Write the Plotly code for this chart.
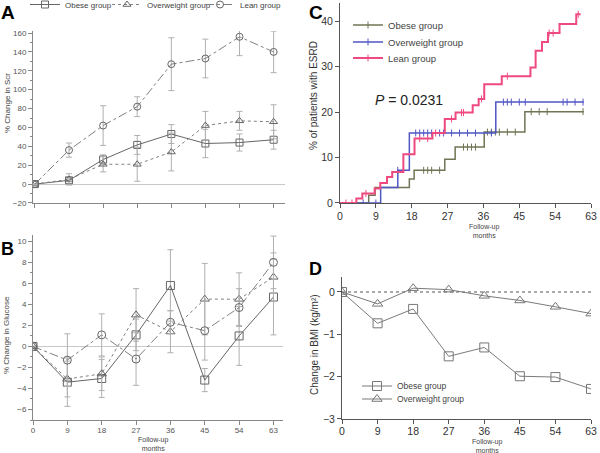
import plotly.graph_objects as go

months = [0, 9, 18, 27, 36, 45, 54, 63]

# Panel A: % change in Scr
scr_obese = [0, 4, 26, 41.5, 53, 43, 44, 47]
scr_obese_err = [0, 3, 5, 10, 10, 15, 9, 10]
scr_over = [0, 5, 21, 21, 34, 62, 67, 66]
scr_over_err = [0, 6, 8, 18, 20, 15, 10, 18]
scr_lean = [0, 36, 62, 82, 127, 133, 156, 140]
scr_lean_err = [0, 7.5, 21, 10.5, 28, 20.5, 20, 22]

# Panel B: % change in glucose
glu_obese = [0, -3.4, -3.05, 1.1, 5.8, -3.2, 1.0, 4.7]
glu_obese_err = [0, 2.3, 1.8, 1.5, 3.4, 1.1, 2.8, 3.6]
glu_over = [0, -3.1, -2.6, 3.0, 1.4, 4.5, 4.5, 6.6]
glu_over_err = [0, 1.7, 1.6, 2.5, 2.0, 3.4, 2.5, 2.3]
glu_lean = [0, -1.3, 1.1, -1.2, 2.3, 1.5, 3.7, 8.0]
glu_lean_err = [0, 2.5, 2.0, 2.5, 1.1, 2.8, 1.8, 2.5]

# Panel C: Kaplan-Meier, % of patients with ESRD
km_obese_t = [0, 7.2, 8.8, 17.4, 18.6, 26.3, 28.9, 36.2, 46.4, 61.2]
km_obese_v = [0, 1.7, 3.4, 5.3, 7.2, 9.6, 12.3, 15.6, 20.1, 20.1]
km_over_t = [0, 10.2, 14.5, 17.4, 39.1, 61.2]
km_over_v = [0, 3.4, 7.2, 15.4, 22.2, 22.2]
km_lean_t = [0, 4.1, 5.6, 8.7, 10.1, 11.8, 13.1, 15.9, 18.7, 23.2, 26.3, 29.0,
             33.3, 34.8, 36.2, 40.6, 47.8, 49.1, 50.7, 52.2, 55.1, 59.3, 60.4]
km_lean_v = [0, 1.0, 2.1, 3.2, 4.4, 5.7, 6.8, 10.7, 14.2, 15.4, 18.5, 19.9,
             21.5, 22.9, 26.1, 27.9, 29.8, 33.5, 35.4, 37.4, 39.4, 41.5, 41.5]
cens_obese_t = [21, 22, 23, 25, 31, 32, 33, 34, 37, 38, 39, 40, 42, 44, 48, 50, 52, 61]
cens_over_t = [5.8, 9, 14.5, 19, 20, 21, 22, 23, 25, 26, 28, 30, 32, 34, 38,
               41, 42, 43, 45, 46.5, 56, 57, 59, 61]
cens_lean_t = [1.5, 3, 6.5, 20, 22, 24, 28, 30.5, 31, 35.5, 42, 52.5, 53.5, 59.8]

# Panel D: change in BMI
bmi_obese = [0, -0.74, -0.40, -1.52, -1.31, -1.99, -2.01, -2.29]
bmi_over = [0, -0.28, 0.09, 0.055, -0.09, -0.20, -0.35, -0.51]

FONT = "Liberation Sans, Arial, sans-serif"
GRAY = "#7a7a7a"
ERR = "#b0b0b0"
W, H = 600, 453


def step_value(ts, vs, t):
    val = vs[0]
    for ti, vi in zip(ts, vs):
        if ti <= t:
            val = vi
    return val


def censor_xy(ts, vs, cts):
    xs, ys = [], []
    for c in cts:
        xs += [c, None]
        ys += [step_value(ts, vs, c), None]
    return xs, ys


fig = go.Figure()

groups = [
    ("Obese group", "square-open", "solid", "#666666"),
    ("Overweight group", "triangle-up-open", "dot", "#808080"),
    ("Lean group", "circle-open", "dashdot", "#808080"),
]

scr = [(scr_obese, scr_obese_err), (scr_over, scr_over_err), (scr_lean, scr_lean_err)]
glu = [(glu_obese, glu_obese_err), (glu_over, glu_over_err), (glu_lean, glu_lean_err)]
legA = ["legend9", "legend2", "legend3"]

for (name, sym, dash, col), (vals, err), lg in zip(groups, scr, legA):
    fig.add_trace(go.Scatter(
        x=months, y=vals, name=name, mode="lines+markers",
        line=dict(color=col, width=1, dash=dash),
        marker=dict(symbol=sym, size=7, color="#666666", line=dict(width=1)),
        error_y=dict(type="data", array=err, color=ERR, thickness=1, width=3),
        xaxis="x", yaxis="y", legend=lg))

for (name, sym, dash, col), (vals, err) in zip(groups, glu):
    fig.add_trace(go.Scatter(
        x=months, y=vals, name=name, mode="lines+markers", showlegend=False,
        line=dict(color=col, width=1, dash=dash),
        marker=dict(symbol=sym, size=8, color="#666666", line=dict(width=1)),
        error_y=dict(type="data", array=err, color=ERR, thickness=1, width=3),
        xaxis="x2", yaxis="y2"))

km = [
    ("Obese group", km_obese_t, km_obese_v, cens_obese_t, "#6f7555", 1.5, "legend4"),
    ("Overweight group", km_over_t, km_over_v, cens_over_t, "#5056c4", 1.5, "legend5"),
    ("Lean group", km_lean_t, km_lean_v, cens_lean_t, "#ef4a80", 2, "legend6"),
]
for name, ts, vs, cts, col, w, lg in km:
    fig.add_trace(go.Scatter(
        x=ts, y=vs, mode="lines", line=dict(color=col, width=w, shape="hv"),
        showlegend=False, xaxis="x3", yaxis="y3"))
    cx, cy = censor_xy(ts, vs, cts)
    fig.add_trace(go.Scatter(
        x=cx, y=cy, name=name, mode="lines+markers", connectgaps=False,
        line=dict(color=col, width=w),
        marker=dict(symbol="line-ns", size=5, line=dict(width=1, color=col)),
        xaxis="x3", yaxis="y3", legend=lg))

for name, vals, sym, lg in [("Obese group", bmi_obese, "square-open", "legend7"),
                            ("Overweight group", bmi_over, "triangle-up-open", "legend8")]:
    fig.add_trace(go.Scatter(
        x=months, y=vals, name=name, mode="lines+markers",
        line=dict(color=GRAY, width=1),
        marker=dict(symbol=sym, size=9, color="#777777", line=dict(width=1)),
        xaxis="x4", yaxis="y4", legend=lg))

axis_common = dict(showline=True, linecolor="#888888", linewidth=1, ticks="outside",
                   tickcolor="#888888", showgrid=False, mirror=False, automargin=False,
                   ticklabeloverflow="allow",
                   tickfont=dict(family=FONT, size=8, color="#555555"))
axis_big = dict(showline=True, linecolor="#555555", linewidth=1, ticks="outside",
                tickcolor="#555555", showgrid=False, zeroline=False, automargin=False,
                ticklabeloverflow="allow",
                tickfont=dict(family=FONT, size=10.5, color="#333333"))


def leg(xtext, ycenter, size, off=43):
    return dict(x=(xtext - off) / W, y=1 - ycenter / H, xanchor="left", yanchor="middle",
                font=dict(family=FONT, size=size, color="#444444"),
                bgcolor="rgba(0,0,0,0)", itemwidth=30)


fig.update_layout(
    width=W, height=H, margin=dict(l=0, r=0, t=0, b=0, autoexpand=False),
    paper_bgcolor="white", plot_bgcolor="white",
    font=dict(family=FONT, color="#444444"),
    xaxis=dict(domain=[0.055, 0.475], range=[-0.5, 66], tickvals=months,
               showticklabels=False, ticklen=4, zeroline=False, anchor="y",
               **axis_common),
    yaxis=dict(domain=[0.5519, 0.9313], range=[-20, 162], dtick=20, ticklen=4,
               zeroline=True, zerolinecolor="#c8c8c8", zerolinewidth=1, anchor="x",
               minor=dict(dtick=10, ticks="outside", ticklen=2, tickcolor="#888888"),
               **axis_common),
    xaxis2=dict(domain=[0.055, 0.4717], range=[0, 65.5], tickvals=months, ticklen=4,
                ticklabelstandoff=-2, zeroline=False, anchor="y2", **axis_common),
    yaxis2=dict(domain=[0.0728, 0.4812], range=[-7, 10.6], tickvals=[-6, -4, -2, 0, 2, 4, 6, 8, 10],
                ticklen=4, zeroline=True, zerolinecolor="#c8c8c8", zerolinewidth=1, anchor="x2",
                minor=dict(dtick=1, ticks="outside", ticklen=2, tickcolor="#888888"),
                **axis_common),
    xaxis3=dict(domain=[0.5667, 0.985], range=[0, 63], tickvals=months, ticklen=4,
                ticklabelstandoff=-1, anchor="y3", **axis_big),
    yaxis3=dict(domain=[0.5519, 0.9934], range=[0, 44], tickvals=[0, 10, 20, 30, 40],
                ticklen=4, anchor="x3", **axis_big),
    xaxis4=dict(domain=[0.57, 0.985], range=[0, 63], tickvals=months, ticklen=4,
                ticklabelstandoff=-2, anchor="y4", **axis_big),
    yaxis4=dict(domain=[0.0751, 0.3885], range=[-3, 0.354], tickvals=[-3, -2, -1, 0],
                ticklen=4, anchor="x4", **axis_big),
    legend9=leg(68, 4.5, 8),
    legend2=leg(150, 4.5, 8),
    legend3=leg(243, 4.5, 8),
    legend4=leg(388, 25, 9.5, 40),
    legend5=leg(388, 42, 9.5, 40),
    legend6=leg(388, 58, 9.5, 40),
    legend7=leg(397, 386, 8.5, 40),
    legend8=leg(397, 399, 8.5, 40),
    shapes=[dict(type="line", xref="x4 domain", yref="y4", x0=0, x1=1, y0=0, y1=0,
                 line=dict(color="#555555", width=1, dash="dot"), layer="below")],
)

ann = []


def add_text(text, x, y, size, angle=0, color="#444444", bold=False, yanchor="middle"):
    ann.append(dict(text=("<b>%s</b>" % text) if bold else text, x=x / W, y=1 - y / H,
                    xref="paper", yref="paper", showarrow=False, textangle=angle,
                    xanchor="center", yanchor=yanchor,
                    font=dict(family=FONT, size=size, color=color)))


add_text("A", 8, 0, 19, color="#000000", bold=True, yanchor="top")
add_text("B", 7, 249, 18, color="#000000", bold=True)
add_text("C", 316, 0, 19, color="#000000", bold=True, yanchor="top")
add_text("D", 315, 269, 18, color="#000000", bold=True)
add_text("% Change in Scr", 7, 103, 8, angle=-90)
add_text("% Change in Glucose", 6, 335, 8, angle=-90)
add_text("Follow-up<br>months", 153, 444, 7)
add_text("% of patients with ESRD", 314, 96, 10, angle=-90, color="#333333")
add_text("Follow-up<br>months", 484, 231, 7)
add_text("Change in BMI (kg/m²)", 314, 345, 10, angle=-90, color="#333333")
add_text("Follow-up<br>months", 487, 446, 7)
add_text("<i>P</i> = 0.0231", 409, 100, 14, color="#222222")
fig.update_layout(annotations=ann)

fig.write_html("out.html", config={"displayModeBar": False},
               post_script="document.body.style.margin='0px';")
